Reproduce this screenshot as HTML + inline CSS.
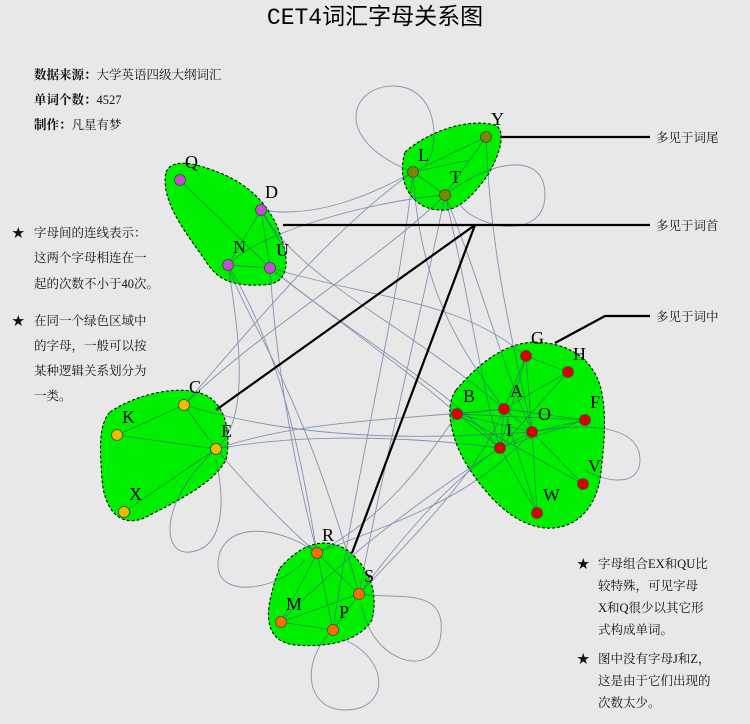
<!DOCTYPE html>
<html><head><meta charset="utf-8"><style>
html,body{margin:0;padding:0;background:#e8e8e8;}
svg{display:block}
text{font-family:"Liberation Serif","Noto Serif CJK SC",serif;}
.cn{font-family:"Liberation Serif","Noto Serif CJK SC",serif;font-size:12.5px;fill:#111}
.lb{font-size:18px;fill:#000}
</style></head><body>
<svg width="750" height="724" viewBox="0 0 750 724" xmlns="http://www.w3.org/2000/svg">
<rect width="750" height="724" fill="#e8e8e8"/>
<text x="375" y="24" text-anchor="middle" style="font-family:'Liberation Mono','Noto Sans CJK SC',monospace;font-size:23px" fill="#000">CET4词汇字母关系图</text>

<text class="cn" x="34" y="79"><tspan font-weight="bold">数据来源：</tspan>大学英语四级大纲词汇</text>
<text class="cn" x="34" y="104"><tspan font-weight="bold">单词个数：</tspan>4527</text>
<text class="cn" x="34" y="129"><tspan font-weight="bold">制作：</tspan>凡星有梦</text>

<g class="cn">
<text x="12" y="237">★</text><text x="34" y="237">字母间的连线表示：</text>
<text x="34" y="262">这两个字母相连在一</text>
<text x="34" y="288">起的次数不小于40次。</text>
<text x="12" y="325">★</text><text x="34" y="325">在同一个绿色区域中</text>
<text x="34" y="350">的字母，一般可以按</text>
<text x="34" y="375">某种逻辑关系划分为</text>
<text x="34" y="400">一类。</text>
<text x="577" y="568">★</text><text x="598" y="568">字母组合EX和QU比</text>
<text x="598" y="590">较特殊，可见字母</text>
<text x="598" y="612">X和Q很少以其它形</text>
<text x="598" y="634">式构成单词。</text>
<text x="577" y="663">★</text><text x="598" y="663">图中没有字母J和Z，</text>
<text x="598" y="685">这是由于它们出现的</text>
<text x="598" y="707">次数太少。</text>
<text x="656" y="142">多见于词尾</text>
<text x="656" y="230">多见于词首</text>
<text x="656" y="321">多见于词中</text>
</g>

<!-- hulls -->
<g fill="#00ee00" stroke="#000" stroke-width="1" stroke-dasharray="3,2">
<path d="M166,172 C172,158 195,162 225,175 C258,190 275,215 282,240 C290,265 288,285 262,285 C235,286 218,282 205,260 C185,232 160,200 166,172 Z"/>
<path d="M405,152 C430,130 470,118 495,125 C506,130 502,150 488,175 C470,200 455,212 440,210 C415,210 395,185 405,152 Z"/>
<path d="M110,412 C135,395 175,385 200,393 C225,400 232,432 226,460 C215,480 190,495 150,515 C125,530 105,515 102,480 C100,450 98,425 110,412 Z"/>
<path d="M280,568 C300,545 325,534 350,552 C372,572 378,595 372,620 C360,640 330,648 295,645 C268,642 266,620 270,600 C273,588 275,578 280,568 Z"/>
<path d="M456,390 C480,362 505,343 535,342 C565,343 590,355 600,385 C607,410 605,440 600,480 C594,510 575,530 545,528 C515,525 490,500 470,470 C452,443 443,408 456,390 Z"/>
</g>

<!-- edges -->
<g fill="none" stroke="#3f5a8a" stroke-width="0.9" opacity="0.6">
<path d="M413,172 C330,140 350,85 395,86 C440,88 440,150 425,165"/>
<path d="M445,195 C490,160 545,150 545,195 C545,240 480,230 460,205"/>
<path d="M216,449 C160,500 160,555 190,552 C225,548 225,500 216,460"/>
<path d="M317,553 C270,520 218,525 218,565 C218,600 280,590 305,560"/>
<path d="M333,630 C300,660 305,710 345,710 C390,710 390,660 345,640"/>
<path d="M359,594 C400,600 450,585 440,640 C430,680 370,660 362,605"/>
<path d="M532,432 C600,420 640,430 640,460 C640,490 600,480 585,470"/>
<path d="M270,268 C350,330 420,380 457,414"/>
<path d="M270,268 C360,340 450,390 500,448"/>
<path d="M261,210 C320,220 380,190 413,172"/>
<path d="M228,265 C260,230 380,200 445,195"/>
<path d="M228,265 C240,340 250,420 216,449"/>
<path d="M270,268 C275,350 290,450 317,553"/>
<path d="M228,265 C280,350 300,450 317,553"/>
<path d="M184,405 C250,330 330,230 413,172"/>
<path d="M184,405 C260,330 380,260 445,195"/>
<path d="M216,449 C300,420 400,420 504,409"/>
<path d="M216,449 C320,430 440,440 500,448"/>
<path d="M184,405 C300,440 420,440 532,432"/>
<path d="M216,449 C260,500 290,530 317,553"/>
<path d="M413,172 C420,300 470,360 504,409"/>
<path d="M445,195 C470,300 480,380 500,448"/>
<path d="M445,195 C480,280 500,360 532,432"/>
<path d="M486,137 C490,250 510,330 532,432"/>
<path d="M413,172 C400,300 360,450 333,630"/>
<path d="M445,195 C420,320 380,480 359,594"/>
<path d="M317,553 C380,520 420,470 457,414"/>
<path d="M359,594 C400,540 450,480 500,448"/>
<path d="M317,553 C400,520 470,500 532,432"/>
<path d="M359,594 C420,530 480,470 504,409"/>
<path d="M281,622 C340,560 420,500 500,448"/>
<path d="M270,268 C380,300 460,300 526,356"/>
<path d="M261,210 C300,280 400,320 504,409"/>
<path d="M228,265 C250,330 300,380 359,594"/>
<path d="M0,0"/>
</g>
<g fill="none" stroke="#2a6a5a" stroke-width="0.8" opacity="0.7">
<path d="M180,180 L270,268 M261,210 L228,265 M261,210 L270,268 M228,265 L270,268 M261,210 L285,250"/>
<path d="M413,172 L486,137 M413,172 L445,195 M445,195 L486,137 M413,172 L470,160"/>
<path d="M117,435 L184,405 M117,435 L216,449 M184,405 L216,449 M124,512 L216,449"/>
<path d="M317,553 L281,622 M317,553 L333,630 M317,553 L359,594 M281,622 L333,630 M333,630 L359,594 M281,622 L359,594"/>
<path d="M526,356 L568,372 M526,356 L504,409 M526,356 L500,448 M568,372 L504,409 M568,372 L500,448 M457,414 L504,409 M457,414 L532,432 M457,414 L500,448 M457,414 L583,484 M504,409 L532,432 M504,409 L585,420 M504,409 L500,448 M504,409 L537,513 M532,432 L585,420 M532,432 L500,448 M532,432 L583,484 M532,432 L537,513 M500,448 L537,513 M500,448 L585,420 M526,356 L532,432 M457,414 L585,420"/>
</g>

<!-- black annotation lines -->
<g stroke="#000" stroke-width="2.2" fill="none">
<path d="M500,137 L650,137"/>
<path d="M283,225 L650,225"/>
<path d="M475,225 L216,410"/>
<path d="M475,225 L352,553"/>
<path d="M555,343 L605,316 L650,316"/>
</g>

<!-- nodes -->
<g stroke="#444" stroke-width="0.8">
<g fill="#c050d0"><circle cx="180" cy="180" r="5.5"/><circle cx="261" cy="210" r="5.5"/><circle cx="228" cy="265" r="5.5"/><circle cx="270" cy="268" r="5.5"/></g>
<g fill="#7a8a00"><circle cx="413" cy="172" r="5.5"/><circle cx="445" cy="195" r="5.5"/><circle cx="486" cy="137" r="5.5"/></g>
<g fill="#e8c000"><circle cx="184" cy="405" r="5.5"/><circle cx="117" cy="435" r="5.5"/><circle cx="216" cy="449" r="5.5"/><circle cx="124" cy="512" r="5.5"/></g>
<g fill="#ff7000"><circle cx="317" cy="553" r="5.5"/><circle cx="359" cy="594" r="5.5"/><circle cx="281" cy="622" r="5.5"/><circle cx="333" cy="630" r="5.5"/></g>
<g fill="#dd0000"><circle cx="526" cy="356" r="5.5"/><circle cx="568" cy="372" r="5.5"/><circle cx="457" cy="414" r="5.5"/><circle cx="504" cy="409" r="5.5"/><circle cx="532" cy="432" r="5.5"/><circle cx="585" cy="420" r="5.5"/><circle cx="500" cy="448" r="5.5"/><circle cx="583" cy="484" r="5.5"/><circle cx="537" cy="513" r="5.5"/></g>
</g>

<!-- node labels -->
<g class="lb">
<text x="185" y="168">Q</text><text x="265" y="198">D</text><text x="233" y="253">N</text><text x="276" y="256">U</text>
<text x="418" y="161">L</text><text x="450" y="183">T</text><text x="491" y="125">Y</text>
<text x="189" y="393">C</text><text x="122" y="423">K</text><text x="221" y="437">E</text><text x="129" y="500">X</text>
<text x="322" y="541">R</text><text x="364" y="582">S</text><text x="286" y="610">M</text><text x="339" y="618">P</text>
<text x="531" y="344">G</text><text x="573" y="360">H</text><text x="463" y="402">B</text><text x="510" y="397">A</text><text x="538" y="420">O</text><text x="590" y="408">F</text><text x="506" y="436">I</text><text x="588" y="472">V</text><text x="543" y="501">W</text>
</g>
</svg>
</body></html>
